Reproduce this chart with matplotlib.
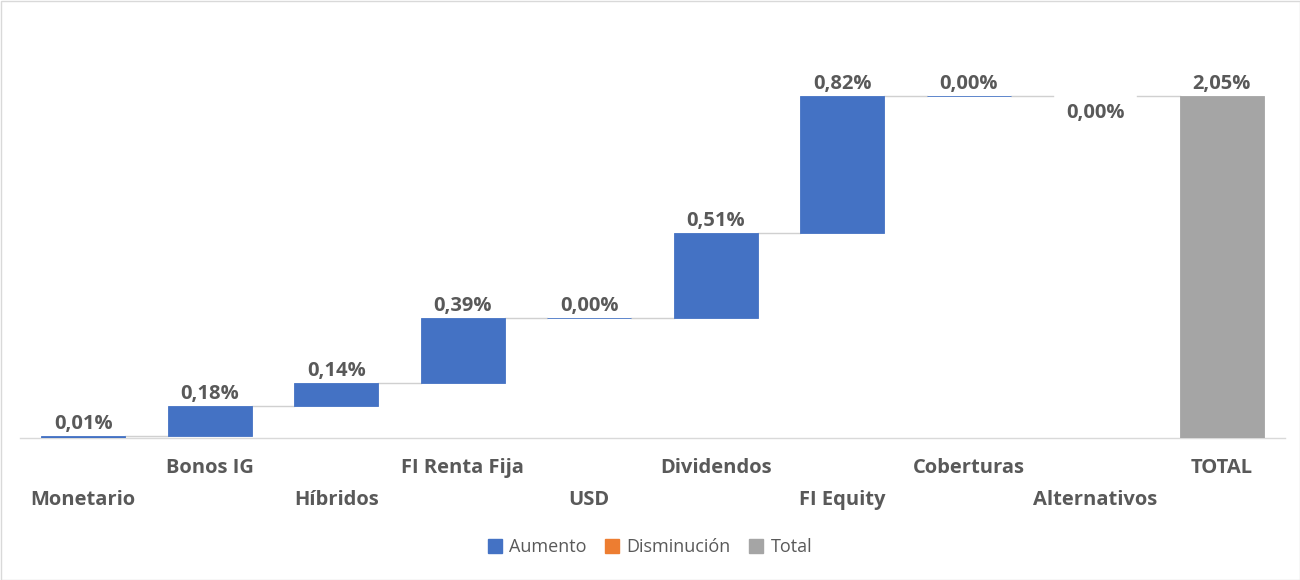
import matplotlib
matplotlib.use("Agg")
import matplotlib.pyplot as plt
from matplotlib.patches import Patch, Rectangle

categories = ["Monetario", "Bonos IG", "Híbridos", "FI Renta Fija", "USD",
              "Dividendos", "FI Equity", "Coberturas", "Alternativos", "TOTAL"]
values = [0.01, 0.18, 0.14, 0.39, 0.00, 0.51, 0.82, 0.00, 0.00, 2.05]
is_total = [False] * 9 + [True]
label_below = ["Alternativos"]

C_UP = "#4472C4"
C_DOWN = "#ED7D31"
C_TOT = "#A5A5A5"
TXT = "#595959"
FONT = ["Open Sans", "DejaVu Sans"]
FS = 14.5

fig = plt.figure(figsize=(13, 5.8), dpi=100)
fig.patches.append(Rectangle((0.5 / 1300, 0.5 / 580), 1 - 1 / 1300, 1 - 1 / 580,
                             transform=fig.transFigure, fill=False,
                             edgecolor="#D9D9D9", linewidth=1))
ax = fig.add_axes([20 / 1300, (580 - 438) / 580, 1265 / 1300, (438 - 21) / 580])

width = 0.665
running = 0.0
prev_top = None
for i, (cat, v, tot) in enumerate(zip(categories, values, is_total)):
    if tot:
        bottom, height, color = 0, v, C_TOT
        top = v
    else:
        neg = v < 0 or cat in label_below
        bottom = running if v >= 0 else running + v
        height = abs(v)
        color = C_DOWN if neg else C_UP
        running += v
        top = running
    lw = 0 if cat in label_below else 0.6
    ax.bar(i, height, bottom=bottom, width=width, color=color,
           edgecolor=color, linewidth=lw, zorder=3)
    if i > 0:
        ax.plot([i - 1 + width / 2, i - width / 2], [prev_top, prev_top],
                color="#D0D0D0", linewidth=1, zorder=2)
    prev_top = top
    lab = f"{v:.2f}%".replace(".", ",")
    if cat in label_below:
        ax.annotate(lab, (i, bottom), xytext=(0, -5), textcoords="offset points",
                    ha="center", va="top", fontsize=FS, fontweight="bold",
                    color=TXT, family=FONT)
    else:
        ax.annotate(lab, (i, bottom + height), xytext=(0, 1.5), textcoords="offset points",
                    ha="center", va="bottom", fontsize=FS, fontweight="bold",
                    color=TXT, family=FONT)

ax.set_xlim(-0.5, len(categories) - 0.5)
ax.set_ylim(0, 2.5)
ax.set_yticks([])
ax.set_xticks(range(len(categories)))
ax.set_xticklabels([])
ax.tick_params(axis="x", length=0)
for i, cat in enumerate(categories):
    y = -30 if i % 2 == 1 else -62
    ax.annotate(cat, (i, 0), xytext=(0, y), textcoords="offset pixels",
                ha="center", va="center", fontsize=FS, fontweight="bold",
                color=TXT, family=FONT, annotation_clip=False)

for s in ["top", "right", "left"]:
    ax.spines[s].set_visible(False)
ax.spines["bottom"].set_color("#D9D9D9")
ax.spines["bottom"].set_linewidth(1)

handles = [Patch(color=C_UP, label="Aumento"),
           Patch(color=C_DOWN, label="Disminución"),
           Patch(color=C_TOT, label="Total")]
leg = fig.legend(handles=handles, loc="center", bbox_to_anchor=(0.5, 1 - 547 / 580),
                 ncol=3, frameon=False, handlelength=0.8, handleheight=0.8,
                 handletextpad=0.4, columnspacing=1.0,
                 prop={"family": FONT, "size": 13})
for t in leg.get_texts():
    t.set_color(TXT)

fig.savefig("out.png", dpi=100)
